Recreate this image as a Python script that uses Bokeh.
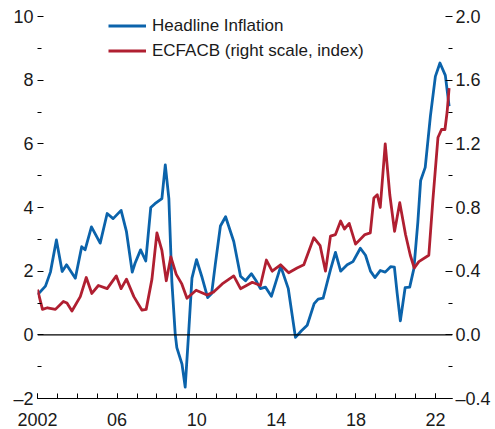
from bokeh.plotting import figure
from bokeh.models import Range1d, LinearAxis, FixedTicker, Span, Legend, LegendItem, BoxAnnotation
from bokeh.embed import file_html
from bokeh.resources import INLINE

# Headline inflation (percent, left scale)
infl_years = [2002.0, 2002.4, 2002.65, 2002.95, 2003.24, 2003.46, 2003.9, 2004.22, 2004.39,
              2004.71, 2005.15, 2005.5, 2005.8, 2006.2, 2006.47, 2006.76, 2006.9, 2007.18,
              2007.44, 2007.69, 2007.9, 2008.25, 2008.42, 2008.6, 2008.75, 2008.92, 2009.0,
              2009.26, 2009.42, 2009.59, 2009.76, 2009.99, 2010.27, 2010.55, 2010.75, 2010.93,
              2011.19, 2011.45, 2011.86, 2012.2, 2012.45, 2012.75, 2013.0, 2013.2, 2013.45,
              2013.75, 2014.22, 2014.6, 2014.96, 2015.25, 2015.55, 2015.9, 2016.1, 2016.35,
              2016.72, 2016.97, 2017.23, 2017.56, 2017.85, 2018.22, 2018.48, 2018.73, 2018.95,
              2019.22, 2019.47, 2019.74, 2019.93, 2020.07, 2020.23, 2020.47, 2020.7, 2020.91,
              2021.11, 2021.25, 2021.48, 2021.74, 2021.99, 2022.22, 2022.49, 2022.68]
headline_inflation = [1.26, 1.53, 1.97, 2.98, 1.99, 2.2, 1.78, 2.77, 2.67,
                      3.39, 2.88, 3.81, 3.65, 3.91, 3.24, 1.97, 2.25, 2.67,
                      2.32, 4.0, 4.12, 4.28, 5.34, 4.28, 1.68, 0.02, -0.4,
                      -0.92, -1.64, 0.02, 1.78, 2.36, 1.8, 1.17, 1.3, 2.2,
                      3.42, 3.71, 2.93, 1.84, 1.7, 1.92, 1.68, 1.45, 1.5,
                      1.21, 2.15, 1.45, -0.08, 0.12, 0.3, 0.98, 1.12, 1.15,
                      2.05, 2.59, 2.0, 2.2, 2.3, 2.72, 2.5, 2.0, 1.8,
                      2.02, 1.97, 2.14, 2.13, 1.3, 0.44, 1.48, 1.5, 2.08,
                      3.55, 4.85, 5.26, 6.87, 8.12, 8.54, 8.15, 7.18]

# ECFACB (index, right scale)
ecf_years = [2002.0, 2002.25, 2002.5, 2002.9, 2003.3, 2003.48, 2003.73, 2004.15, 2004.45,
             2004.73, 2005.06, 2005.5, 2005.96, 2006.2, 2006.47, 2006.84, 2007.25, 2007.46,
             2007.75, 2008.0, 2008.25, 2008.47, 2008.7, 2008.97, 2009.25, 2009.51, 2009.97,
             2010.52, 2010.86, 2011.28, 2011.86, 2012.2, 2012.5, 2012.79, 2013.2, 2013.5,
             2013.79, 2014.21, 2014.62, 2015.04, 2015.38, 2015.88, 2016.2, 2016.47, 2016.72,
             2016.97, 2017.23, 2017.42, 2017.66, 2017.98, 2018.45, 2018.72, 2018.9, 2019.07,
             2019.22, 2019.47, 2019.7, 2019.94, 2020.2, 2020.49, 2020.73, 2020.93, 2021.16,
             2021.66, 2021.86, 2022.12, 2022.3, 2022.47, 2022.58, 2022.68]
ecfacb = [0.284, 0.16, 0.17, 0.16, 0.21, 0.2, 0.15, 0.24, 0.36,
          0.26, 0.31, 0.29, 0.37, 0.29, 0.35, 0.24, 0.155, 0.16,
          0.35, 0.64, 0.53, 0.34, 0.49, 0.38, 0.32, 0.23, 0.28,
          0.25, 0.27, 0.32, 0.37, 0.29, 0.31, 0.33, 0.31, 0.47,
          0.4, 0.44, 0.39, 0.42, 0.44, 0.61, 0.56, 0.4, 0.62,
          0.63, 0.715, 0.665, 0.7, 0.57, 0.63, 0.64, 0.86, 0.88,
          0.8, 1.2, 0.88, 0.65, 0.83, 0.63, 0.5, 0.42, 0.46,
          0.5, 0.84, 1.24, 1.29, 1.29, 1.4, 1.55]

left_major = [-2, 0, 2, 4, 6, 8, 10]
left_minor = [-1, 1, 3, 5, 7, 9]
left_labels = ["–2", "0", "2", "4", "6", "8", "10"]
right_major = [-0.4, 0.0, 0.4, 0.8, 1.2, 1.6, 2.0]
right_minor = [-0.2, 0.2, 0.6, 1.0, 1.4, 1.8]
right_labels = ["–0.4", "0.0", "0.4", "0.8", "1.2", "1.6", "2.0"]
x_major = [2002, 2006, 2010, 2014, 2018, 2022]
x_minor = list(range(2002, 2023))
x_labels = ["2002", "06", "10", "14", "18", "22"]

FONT = "Liberation Sans"
BLUE = "#0b63ab"
RED = "#b01f31"

p = figure(width=495, height=429, x_range=Range1d(2002, 2022.85), y_range=Range1d(-2, 10),
           toolbar_location=None, output_backend="svg",
           min_border_left=37, min_border_right=43, min_border_top=16, min_border_bottom=31)
p.outline_line_color = None
p.xgrid.visible = False
p.ygrid.visible = False
p.extra_y_ranges = {"right": Range1d(-0.4, 2.0)}

# pale strip down the left edge of the page
p.add_layout(BoxAnnotation(left=0, right=8, top=0, bottom=429,
                           left_units="canvas", right_units="canvas",
                           top_units="canvas", bottom_units="canvas",
                           fill_color="#e4e9f4", fill_alpha=1, line_color=None, level="underlay"))

p.add_layout(Span(location=0, dimension="width", line_color="black", line_width=1.2))

r_infl = p.line(infl_years, headline_inflation, line_color=BLUE, line_width=2.8, line_join="round")
r_ecf = p.line(ecf_years, ecfacb, line_color=RED, line_width=2.8, line_join="round", y_range_name="right")

# left axis
yl = p.yaxis[0]
yl.ticker = FixedTicker(ticks=left_major, minor_ticks=left_minor)
yl.major_label_overrides = dict(zip(left_major, left_labels))
yl.axis_line_color = None
yl.major_tick_in = 6
yl.major_tick_out = 0
yl.minor_tick_in = 4
yl.minor_tick_out = 0
yl.major_label_standoff = 4

# right axis
yr = LinearAxis(y_range_name="right")
yr.ticker = FixedTicker(ticks=right_major, minor_ticks=right_minor)
yr.major_label_overrides = dict(zip(right_major, right_labels))
yr.axis_line_color = None
yr.major_tick_in = 7
yr.major_tick_out = 0
yr.minor_tick_in = 4
yr.minor_tick_out = 0
yr.major_label_standoff = 3
p.add_layout(yr, "right")

# bottom axis
xa = p.xaxis[0]
xa.ticker = FixedTicker(ticks=x_major, minor_ticks=x_minor)
xa.major_label_overrides = dict(zip(x_major, x_labels))
xa.axis_line_color = "black"
xa.major_tick_in = 5
xa.major_tick_out = 0
xa.minor_tick_in = 5
xa.minor_tick_out = 0
xa.major_label_standoff = 14

for ax in (yl, yr, xa):
    ax.major_label_text_font = FONT
    ax.major_label_text_font_size = "18px"
    ax.major_label_text_color = "#1a1a1a"
    ax.major_tick_line_color = "black"
    ax.minor_tick_line_color = "black"

legend = Legend(items=[LegendItem(label="Headline Inflation", renderers=[r_infl]),
                       LegendItem(label="ECFACB (right scale, index)", renderers=[r_ecf])],
                location=(71, 335))
legend.background_fill_alpha = 0
legend.border_line_color = None
legend.padding = 0
legend.margin = 0
legend.spacing = 0
legend.glyph_width = 38
legend.glyph_height = 25
legend.label_height = 25
legend.label_standoff = 6
legend.label_text_font = FONT
legend.label_text_font_size = "17px"
legend.label_text_color = "#1a1a1a"
p.add_layout(legend, "center")

open("out.html", "w").write(file_html(p, INLINE))
